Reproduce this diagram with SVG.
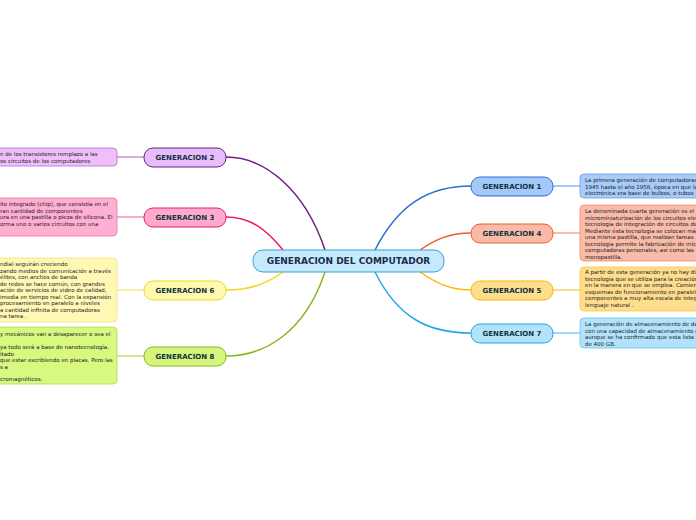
<svg xmlns="http://www.w3.org/2000/svg" width="696" height="520" viewBox="0 0 696 520">
<style>
.node text{font-family:"DejaVu Sans",Verdana,sans-serif;font-weight:bold;font-size:7px;fill:#10333f;text-anchor:middle}
.box{font-family:"DejaVu Sans",Verdana,sans-serif;font-size:5.5px;fill:#1a1a2a}
.conn path{fill:none;stroke-width:1.5}
.thin{fill:none;stroke-width:0.8}
</style>
<rect width="696" height="520" fill="#ffffff"/>
<g id="connectors" class="conn">
<path d="M375,250 C398,205 428,186 471,186" stroke="#2a6fd6"/>
<path d="M420,250 C436,239 450,233 471,233" stroke="#f05a2a"/>
<path d="M420,272 C436,283 450,290 471,290" stroke="#fbb800"/>
<path d="M375,272 C398,318 428,333 471,333" stroke="#22a6e6"/>
<path d="M325,250 C305,190 265,157 226,157" stroke="#6a2080"/>
<path d="M283,250 C266,229 250,217 226,217" stroke="#ea1a72"/>
<path d="M283,272 C266,284 250,290 226,290" stroke="#f0d820"/>
<path d="M325,272 C305,332 265,356 226,356" stroke="#88b820"/>
<path class="thin" d="M553,186 H580" stroke="#8ab4f0"/>
<path class="thin" d="M553,233 H580" stroke="#f6a890"/>
<path class="thin" d="M553,290 H580" stroke="#fbd070"/>
<path class="thin" d="M553,333 H580" stroke="#80ccf4"/>
<path class="thin" d="M144,157 H117" stroke="#c890dc"/>
<path class="thin" d="M144,217 H117" stroke="#f890b8"/>
<path class="thin" d="M144,290 H117" stroke="#f4e890"/>
<path class="thin" d="M144,356 H117" stroke="#c0e070"/>
</g>
<g id="central" class="node">
<rect x="253" y="250" width="191" height="22" rx="10" fill="#c5eafc" stroke="#3a9fd8" stroke-width="1"/>
<text x="348.5" y="264.3" style="font-size:9px;fill:#1a2c4a">GENERACION DEL COMPUTADOR</text>
</g>
<g id="gen1" class="node">
<rect x="471" y="177" width="82" height="19" rx="9" fill="#a4c8f8" stroke="#2a6fd6"/>
<text x="512" y="189">GENERACION 1</text>
</g>
<g id="gen4" class="node">
<rect x="471" y="224" width="82" height="19" rx="9" fill="#f9bba8" stroke="#f05a2a"/>
<text x="512" y="236">GENERACION 4</text>
</g>
<g id="gen5" class="node">
<rect x="471" y="281" width="82" height="19" rx="9" fill="#fedd8c" stroke="#fbb800"/>
<text x="512" y="293">GENERACION 5</text>
</g>
<g id="gen7" class="node">
<rect x="471" y="324" width="82" height="19" rx="9" fill="#b3e3fb" stroke="#22a6e6"/>
<text x="512" y="336">GENERACION 7</text>
</g>
<g id="gen2" class="node">
<rect x="144" y="148" width="82" height="19" rx="9" fill="#e8bbfa" stroke="#6a2080"/>
<text x="185" y="160">GENERACION 2</text>
</g>
<g id="gen3" class="node">
<rect x="144" y="208" width="82" height="19" rx="9" fill="#ffaacc" stroke="#ea1a72"/>
<text x="185" y="220">GENERACION 3</text>
</g>
<g id="gen6" class="node">
<rect x="144" y="281" width="82" height="19" rx="9" fill="#fffab0" stroke="#f0d820"/>
<text x="185" y="293">GENERACION 6</text>
</g>
<g id="gen8" class="node">
<rect x="144" y="347" width="82" height="19" rx="9" fill="#d5f57c" stroke="#88b820"/>
<text x="185" y="359">GENERACION 8</text>
</g>
<g id="note1">
<rect x="580" y="174" width="126" height="24" rx="4" fill="#a8ccf8" stroke="#6a9ae6" stroke-width="0.8"/>
<text class="box" x="585"><tspan x="585" y="182">La primera generación de computadoras</tspan><tspan x="585" y="188.5">1945 hasta el año 1958, época en que la</tspan><tspan x="585" y="195">electrónica era base de bulbos, o tubos</tspan></text>
</g>
<g id="note4">
<rect x="580" y="205" width="126" height="56" rx="4" fill="#f9bca8" stroke="#f08a6a" stroke-width="0.8"/>
<text class="box"><tspan x="585" y="213">La denominada cuarta generación es el p</tspan><tspan x="585" y="219.5">microminiaturización de los circuitos ele</tspan><tspan x="585" y="226">tecnología de integración de circuitos de</tspan><tspan x="585" y="232.5">Mediante ésta tecnología se colocan más</tspan><tspan x="585" y="239">una misma pastilla, que realizan tareas</tspan><tspan x="585" y="245.5">tecnología permite la fabricación de mic</tspan><tspan x="585" y="252">computadoras personales, así como las</tspan><tspan x="585" y="258.5">monopastilla.</tspan></text>
</g>
<g id="note5">
<rect x="580" y="267" width="126" height="44" rx="4" fill="#fedd8c" stroke="#fbc840" stroke-width="0.8"/>
<text class="box"><tspan x="585" y="274">A partir de esta generación ya no hay di</tspan><tspan x="585" y="280.5">tecnología que se utiliza para la creación</tspan><tspan x="585" y="287">en la manera en que se emplea. Comien</tspan><tspan x="585" y="293.5">esquemas de funcionamiento en paralelo</tspan><tspan x="585" y="300">componentes a muy alta escala de integ</tspan><tspan x="585" y="306.5">lenguaje natural .</tspan></text>
</g>
<g id="note7">
<rect x="580" y="318" width="126" height="30" rx="4" fill="#b3e3fb" stroke="#66c4f0" stroke-width="0.8"/>
<text class="box"><tspan x="585" y="326">La generación de almacenamiento de da</tspan><tspan x="585" y="332.5">con una capacidad de almacenamiento c</tspan><tspan x="585" y="339">aunque se ha confirmado que esta lista p</tspan><tspan x="585" y="345.5">de 400 GB.</tspan></text>
</g>
<g id="note2">
<rect x="-10" y="148" width="127" height="18" rx="4" fill="#efbffa" stroke="#b470d4" stroke-width="0.8"/>
<text class="box"><tspan x="0" y="156">n de los transistores remplazo a las</tspan><tspan x="0" y="162.5">os circuitos de los computadores</tspan></text>
</g>
<g id="note3">
<rect x="-10" y="198" width="127" height="38" rx="4" fill="#ffb0d2" stroke="#f070a8" stroke-width="0.8"/>
<text class="box"><tspan x="0" y="206">ito integrado (chip), que consistía en el</tspan><tspan x="0" y="212.5">ran cantidad de componentes</tspan><tspan x="0" y="219">ura en una pastilla o pieza de silicona. El</tspan><tspan x="0" y="225.5">orma uno o varios circuitos con una</tspan></text>
</g>
<g id="note6">
<rect x="-10" y="258" width="127" height="64" rx="4" fill="#fff8b4" stroke="#f0e078" stroke-width="0.8"/>
<text class="box"><tspan x="0" y="266">ndial seguirán creciendo</tspan><tspan x="0" y="272.5">zando medios de comunicación a través</tspan><tspan x="0" y="279">élites, con anchos de banda</tspan><tspan x="0" y="285.5">de redes se hace común, con grandes</tspan><tspan x="0" y="292">ación de servicios de video de calidad,</tspan><tspan x="0" y="298.5">imedia en tiempo real. Con la expansión</tspan><tspan x="0" y="305">procesamiento en paralelo a niveles</tspan><tspan x="0" y="311.5">a cantidad infinita de computadoras</tspan><tspan x="0" y="318">na tarea .</tspan></text>
</g>
<g id="note8">
<rect x="-10" y="327" width="127" height="57" rx="4" fill="#d8f880" stroke="#b0d860" stroke-width="0.8"/>
<text class="box"><tspan x="0" y="336">y mecánicos van a desaparecer o sea el</tspan><tspan x="0" y="349">ya todo será a base de nanotecnología.</tspan><tspan x="0" y="355.5">itado</tspan><tspan x="0" y="362">que estar escribiendo en placas. Pero las</tspan><tspan x="0" y="368.5">s a</tspan><tspan x="0" y="381">cromagnéticos.</tspan></text>
</g>
</svg>
